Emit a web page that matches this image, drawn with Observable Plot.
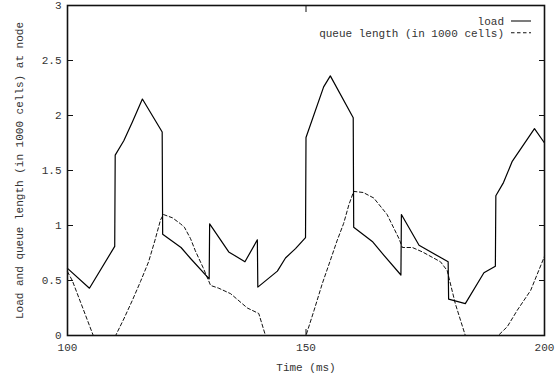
<!DOCTYPE html>
<html>
<head>
<meta charset="utf-8">
<script src="https://cdn.jsdelivr.net/npm/d3@7"></script>
<script src="https://cdn.jsdelivr.net/npm/@observablehq/plot@0.6"></script>
<style>
  html, body { margin: 0; padding: 0; background: #fff; }
</style>
</head>
<body>
<div id="chart"></div>
<script>
// Load at the node over time (ms), in 1000 cells
const loadTime  = [100, 104.6, 109.9, 110.0, 111.8, 113.6, 115.7, 119.85, 119.95, 123.8, 125.8, 129.7, 129.8,
                   133.8, 137.2, 139.8, 139.9, 144.0, 145.7, 147.8, 149.9, 150.0, 153.7, 155.1, 159.9, 160.0,
                   163.9, 166.3, 169.9, 170.0, 173.7, 179.8, 179.9, 183.4, 187.3, 189.7, 189.8, 191.4, 193.2,
                   197.9, 200];
const loadValue = [0.61, 0.43, 0.81, 1.64, 1.77, 1.94, 2.15, 1.85, 0.92, 0.80, 0.70, 0.515, 1.015,
                   0.76, 0.67, 0.87, 0.44, 0.585, 0.705, 0.79, 0.89, 1.80, 2.26, 2.36, 1.98, 0.985,
                   0.855, 0.73, 0.55, 1.10, 0.82, 0.67, 0.33, 0.29, 0.57, 0.63, 1.27, 1.39, 1.58,
                   1.88, 1.75];

// Queue length at the node (in 1000 cells)
const queueTime  = [100, 101, 105.4, 110.1, 111.8, 113.6, 115.3, 117.0, 118.3, 119.5, 120.1, 122.0, 123.7,
                    124.5, 125.8, 126.8, 128.4, 130.0, 131.7, 134.2, 137.7, 140.1, 141.5, 150.0, 151.7,
                    153.4, 155.0, 156.5, 157.9, 159.0, 160.0, 162.0, 164.2, 167.0, 169.5, 170.2, 172.3,
                    174.4, 178.2, 179.6, 181.3, 183.4, 190.3, 192.2, 194.3, 197.1, 200];
const queueValue = [0.58, 0.50, 0, 0, 0.15, 0.32, 0.49, 0.67, 0.86, 1.05, 1.10, 1.07, 1.015,
                    0.985, 0.88, 0.77, 0.62, 0.455, 0.43, 0.38, 0.25, 0.20, 0, 0, 0.23,
                    0.47, 0.67, 0.86, 1.02, 1.19, 1.31, 1.30, 1.25, 1.10, 0.88, 0.80, 0.80,
                    0.76, 0.67, 0.59, 0.29, 0, 0, 0.08, 0.23, 0.41, 0.72];

const xTicks = [100, 150, 200];
const yTicks = [0, 0.5, 1, 1.5, 2, 2.5, 3];

const series = [
  {name: "load", dash: null},
  {name: "queue length (in 1000 cells)", dash: "3.5,2.5"}
];

const load  = loadTime.map((t, i) => ({t, v: loadValue[i]}));
const queue = queueTime.map((t, i) => ({t, v: queueValue[i]}));

const fmt = d => String(d);
const blank = () => "";

// Legend drawn in the upper-right corner of the frame
function legend(index, scales, values, dims) {
  const g = d3.create("svg:g");
  const xRight = dims.width - dims.marginRight - 40;
  series.forEach((s, i) => {
    const y = dims.marginTop + 16 + i * 11.7;
    g.append("text")
      .attr("x", xRight).attr("y", y + 4)
      .attr("text-anchor", "end")
      .attr("fill", "#333")
      .text(s.name);
    g.append("line")
      .attr("x1", xRight + 7).attr("x2", xRight + 27)
      .attr("y1", y).attr("y2", y)
      .attr("stroke", "#111")
      .attr("stroke-width", 1.1)
      .attr("stroke-dasharray", s.dash);
  });
  return g.node();
}

const chart = Plot.plot({
  width: 559,
  height: 378,
  marginLeft: 67,
  marginRight: 15,
  marginTop: 5,
  marginBottom: 43,
  style: {fontFamily: "'Liberation Mono', 'DejaVu Sans Mono', monospace", fontSize: "11px", color: "#333", background: "#fff"},
  x: {domain: [100, 200]},
  y: {domain: [0, 3]},
  marks: [
    // tick labels
    Plot.axisY({ticks: yTicks, tickSize: 0, tickPadding: 6, tickFormat: fmt, label: null}),
    Plot.axisX({ticks: xTicks, tickSize: 0, tickPadding: 8, tickFormat: fmt, label: null}),
    // inward tick marks on all four sides
    Plot.axisY({ticks: yTicks, anchor: "left", tickSize: 6, dx: 6, tickFormat: blank, label: null, stroke: "#111"}),
    Plot.axisY({ticks: yTicks, anchor: "right", tickSize: 6, dx: -6, tickFormat: blank, label: null, stroke: "#111"}),
    Plot.axisX({ticks: xTicks, anchor: "top", tickSize: 6, dy: 6, tickFormat: blank, label: null, stroke: "#111"}),
    Plot.axisX({ticks: xTicks, anchor: "bottom", tickSize: 6, dy: -6, tickFormat: blank, label: null, stroke: "#111"}),
    // axis titles
    Plot.text(["Time (ms)"], {frameAnchor: "bottom", textAnchor: "middle", dy: 35, fill: "#333"}),
    Plot.text(["Load and queue length (in 1000 cells) at node"], {frameAnchor: "left", textAnchor: "middle", rotate: -90, dx: -48, fill: "#333"}),
    // series
    Plot.line(queue, {x: "t", y: "v", stroke: "#111", strokeWidth: 1, strokeDasharray: series[1].dash}),
    Plot.line(load, {x: "t", y: "v", stroke: "#000", strokeWidth: 1.2}),
    Plot.frame({stroke: "#111", strokeWidth: 1.6}),
    legend
  ]
});

document.getElementById("chart").append(chart);
</script>
</body>
</html>
